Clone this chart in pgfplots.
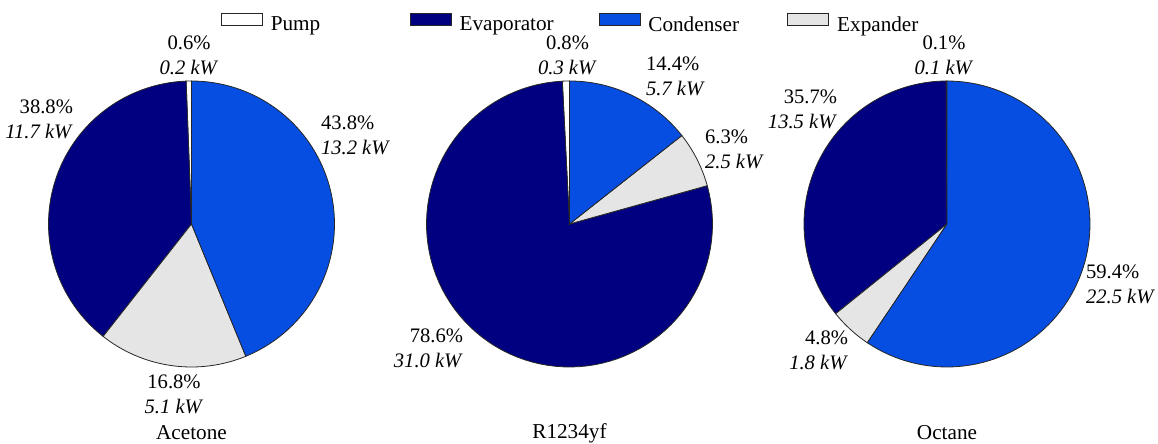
\documentclass[border=0pt]{standalone}
\usepackage{fontspec}
\setmainfont{Liberation Serif}
\usepackage{pgfplots}
\usepackage{pgfplotstable}
\pgfplotsset{compat=1.18}
\definecolor{evap}{RGB}{0,0,128}
\definecolor{cond}{RGB}{6,78,226}
\definecolor{expa}{RGB}{229,229,229}
\newcommand\lbl{\fontsize{10.3}{12.5}\selectfont}
\newcommand\lgd{\fontsize{10.6}{12.5}\selectfont}

% shares in percent, counter-clockwise from 12 o'clock
\pgfplotstableread{
part value
Pump 0.6
Evaporator 38.8
Expander 16.8
Condenser 43.8
}\acetone
\pgfplotstableread{
part value
Pump 0.8
Evaporator 78.6
Expander 6.3
Condenser 14.4
}\rfour
\pgfplotstableread{
part value
Pump 0.1
Evaporator 35.7
Expander 4.8
Condenser 59.4
}\octane

\newcommand\pieangles[1]{%
  \pgfplotstablegetelem{0}{value}\of#1\pgfmathsetmacro\vA{\pgfplotsretval}%
  \pgfplotstablegetelem{1}{value}\of#1\pgfmathsetmacro\vB{\pgfplotsretval}%
  \pgfplotstablegetelem{2}{value}\of#1\pgfmathsetmacro\vC{\pgfplotsretval}%
  \pgfplotstablegetelem{3}{value}\of#1\pgfmathsetmacro\vD{\pgfplotsretval}%
  \pgfmathsetmacro\tot{\vA+\vB+\vC+\vD}%
  \pgfmathsetmacro\aA{90}%
  \pgfmathsetmacro\aB{90+(\vA/\tot)*360}%
  \pgfmathsetmacro\aC{\aB+(\vB/\tot)*360}%
  \pgfmathsetmacro\aD{\aC+(\vC/\tot)*360}%
  \pgfmathsetmacro\aE{450}%
}
\newcommand\drawpie{%
  \addplot[wedge, fill=white, domain=\aA:\aB] ({cos(x)},{sin(x)}) -- (axis cs:0,0) -- cycle;
  \addplot[wedge, fill=evap, domain=\aB:\aC] ({cos(x)},{sin(x)}) -- (axis cs:0,0) -- cycle;
  \addplot[wedge, fill=expa, domain=\aC:\aD] ({cos(x)},{sin(x)}) -- (axis cs:0,0) -- cycle;
  \addplot[wedge, fill=cond, domain=\aD:\aE] ({cos(x)},{sin(x)}) -- (axis cs:0,0) -- cycle;
}

\tikzset{lab/.style={font=\lbl, inner sep=0pt, outer sep=0pt},
  ttl/.style={font=\lgd, inner sep=0pt, outer sep=0pt}}
\pgfplotsset{
  wedge/.style={draw=black!85, line width=0.4pt, forget plot, samples=90},
  pie/.style={hide axis, scale only axis, width=143pt, height=143pt,
    xmin=-1, xmax=1, ymin=-1, ymax=1, clip=false, anchor=center},
}

\begin{document}
\begin{tikzpicture}
\path[use as bounding box] (0,0) rectangle (579pt,222pt);

\pieangles\acetone
\begin{axis}[pie, at={(95.75pt,110pt)}]
\drawpie
\node[lab, anchor=center, align=center] at (axis cs:-0.017,1.178) {0.6\%\\\textit{0.2 kW}};
\node[lab, anchor=east, align=right] at (axis cs:-0.829,0.733) {38.8\%\\\textit{11.7 kW}};
\node[lab, anchor=west, align=left] at (axis cs:0.906,0.622) {43.8\%\\\textit{13.2 kW}};
\node[lab, anchor=center, align=center] at (axis cs:-0.122,-1.189) {16.8\%\\\textit{5.1 kW}};
\node[ttl, anchor=center] at (axis cs:0,-1.462) {Acetone};
\end{axis}

\pieangles\rfour
\begin{axis}[pie, at={(284.75pt,110pt)},
  legend columns=4,
  legend cell align=left,
  legend image code/.code={\draw[#1] (0pt,0pt) rectangle (20.5pt,6.2pt);},
  legend style={at={(-0.7185,1.2388)}, anchor=north west, draw=none, fill=none,
    inner sep=0pt, outer sep=0pt, font=\lgd, row sep=0pt,
    nodes={inner sep=0pt},
    /tikz/every odd column/.style={column sep=4pt},
    /tikz/every even column/.style={column sep=19.5pt}},
]
\drawpie
\addlegendimage{draw=black!85, line width=0.4pt, fill=white}
\addlegendimage{draw=black!85, line width=0.4pt, fill=evap}
\addlegendimage{draw=black!85, line width=0.4pt, fill=cond}
\addlegendimage{draw=black!85, line width=0.4pt, fill=expa}
\legend{\makebox[50pt][l]{Pump},\makebox[50pt][l]{Evaporator},\makebox[50pt][l]{Condenser},\makebox[50pt][l]{Expander}}
\node[lab, anchor=center, align=center] at (axis cs:-0.014,1.178) {0.8\%\\\textit{0.3 kW}};
\node[lab, anchor=west, align=left] at (axis cs:0.535,1.031) {14.4\%\\\textit{5.7 kW}};
\node[lab, anchor=west, align=left] at (axis cs:0.948,0.521) {6.3\%\\\textit{2.5 kW}};
\node[lab, anchor=east, align=right] at (axis cs:-0.745,-0.869) {78.6\%\\\textit{31.0 kW}};
\node[ttl, anchor=center] at (axis cs:0,-1.462) {R1234yf};
\end{axis}

\pieangles\octane
\begin{axis}[pie, at={(473.5pt,110pt)}]
\drawpie
\node[lab, anchor=center, align=center] at (axis cs:-0.021,1.178) {0.1\%\\\textit{0.1 kW}};
\node[lab, anchor=east, align=right] at (axis cs:-0.769,0.801) {35.7\%\\\textit{13.5 kW}};
\node[lab, anchor=east, align=right] at (axis cs:-0.692,-0.885) {4.8\%\\\textit{1.8 kW}};
\node[lab, anchor=west, align=left] at (axis cs:0.972,-0.423) {59.4\%\\\textit{22.5 kW}};
\node[ttl, anchor=center] at (axis cs:0,-1.462) {Octane};
\end{axis}
\end{tikzpicture}
\end{document}
